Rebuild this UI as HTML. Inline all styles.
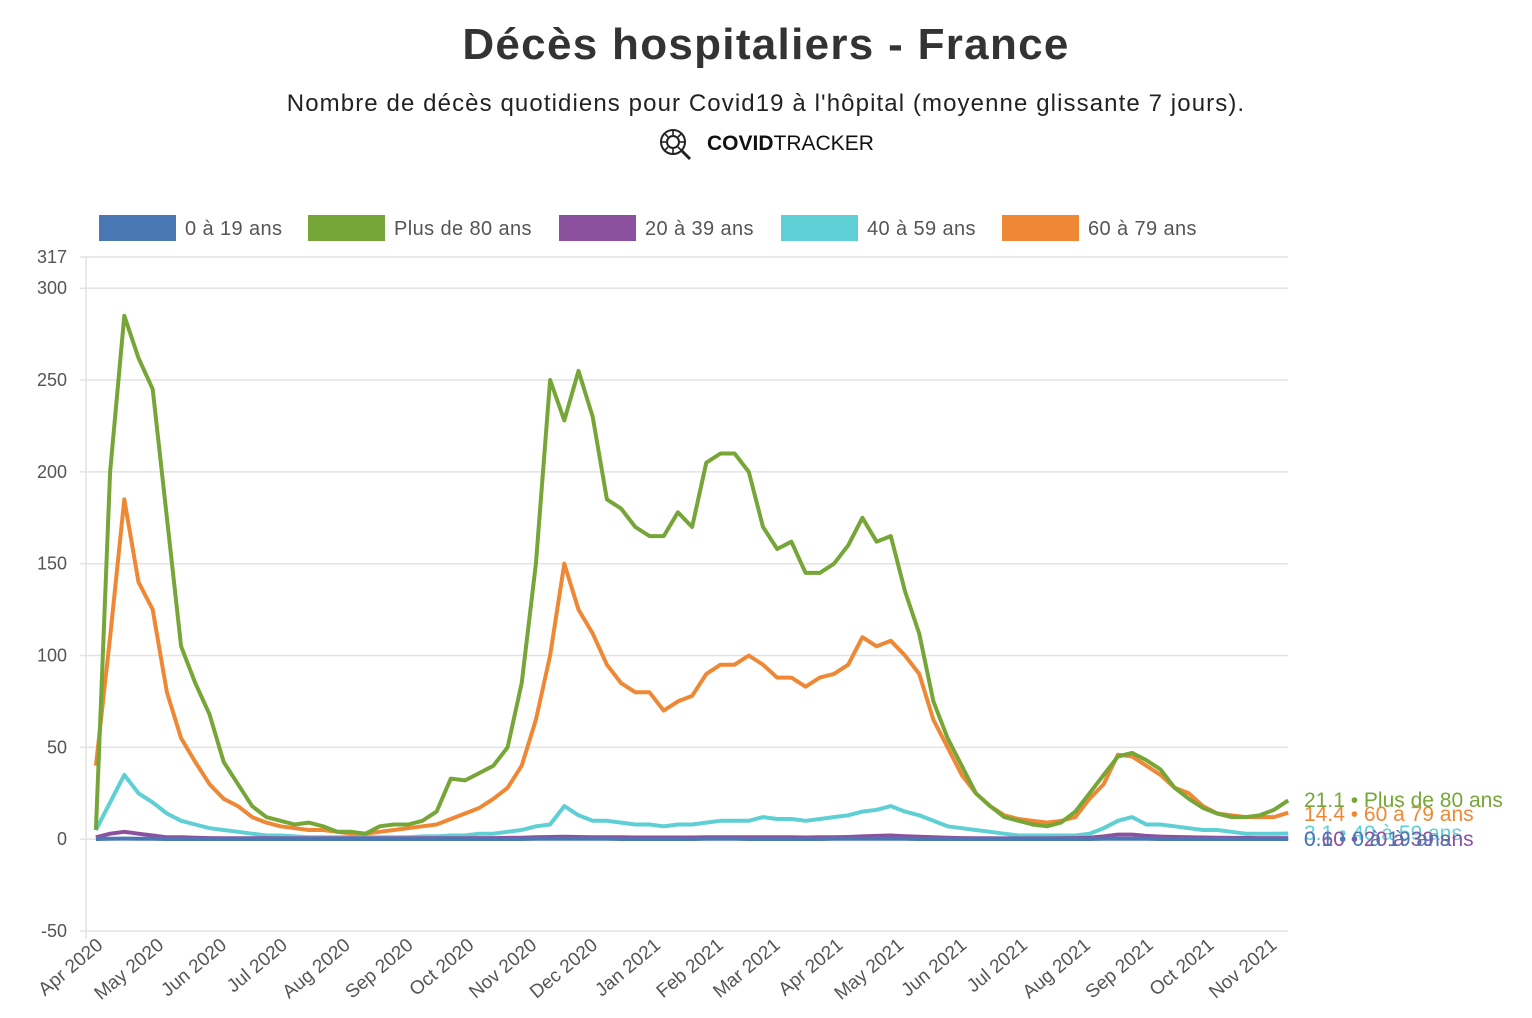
<!DOCTYPE html>
<html><head><meta charset="utf-8"><style>
body{margin:0;background:#fff;font-family:"Liberation Sans",Arial,sans-serif;}
#wrap{position:relative;width:1532px;height:1018px;overflow:hidden;}
.t{position:absolute;left:0;width:1532px;text-align:center;}
</style></head><body>
<div id="wrap">
<div class="t" style="top:20px;font-size:44px;font-weight:bold;color:#333;letter-spacing:1.3px;">Décès hospitaliers - France</div>
<div class="t" style="top:90px;font-size:24px;color:#222;letter-spacing:1.1px;">Nombre de décès quotidiens pour Covid19 à l'hôpital (moyenne glissante 7 jours).</div>
<div style="position:absolute;left:657px;top:126px;height:36px;display:flex;align-items:center;">
<svg width="38" height="34" viewBox="0 0 38 34"><circle cx="16" cy="15" r="12" fill="none" stroke="#222" stroke-width="2"/><circle cx="16" cy="15" r="6" fill="none" stroke="#222" stroke-width="2"/><g stroke="#222" stroke-width="1.6"><line x1="16" y1="4" x2="16" y2="8"/><line x1="16" y1="22" x2="16" y2="26"/><line x1="5" y1="15" x2="9" y2="15"/><line x1="23" y1="15" x2="27" y2="15"/><line x1="8" y1="7" x2="11" y2="10"/><line x1="21" y1="20" x2="24" y2="23"/><line x1="24" y1="7" x2="21" y2="10"/><line x1="8" y1="23" x2="11" y2="20"/></g><line x1="25" y1="24" x2="33" y2="32" stroke="#222" stroke-width="3"/></svg>
<span style="font-size:21px;color:#111;margin-left:12px;"><b>COVID</b>TRACKER</span></div>
<svg id="chart" width="1532" height="1018" style="position:absolute;left:0;top:0"></svg>
</div>
<script>
const seriesNames=["0 à 19 ans","Plus de 80 ans","20 à 39 ans","40 à 59 ans","60 à 79 ans"];
const seriesColors=["#4a78b4","#76a637","#8c519e","#5ecfd4","#ef8834"];
const startDate="2020-03-30";
const stepDays=7;
const vBlue=[0.1,0.2,0.3,0.2,0.2,0.1,0.1,0.1,0.1,0.1,0.1,0.1,0.1,0.1,0.1,0.1,0.1,0.1,0.1,0.1,0.1,0.1,0.1,0.1,0.1,0.1,0.1,0.1,0.1,0.1,0.1,0.2,0.2,0.2,0.2,0.2,0.2,0.1,0.1,0.1,0.1,0.1,0.1,0.2,0.2,0.2,0.1,0.1,0.1,0.1,0.1,0.1,0.2,0.2,0.2,0.2,0.2,0.2,0.1,0.1,0.1,0.1,0.1,0.1,0.1,0.1,0.1,0.1,0.1,0.1,0.1,0.2,0.2,0.2,0.2,0.1,0.1,0.1,0.1,0.1,0.1,0.1,0.1,0.1,0.1];
const vOld=[5,200,285,262,245,175,105,85,68,42,30,18,12,10,8,9,7,4,4,3,7,8,8,10,15,33,32,36,40,50,85,150,250,228,255,230,185,180,170,165,165,178,170,205,210,210,200,170,158,162,145,145,150,160,175,162,165,135,112,75,55,40,25,18,12,10,8,7,9,15,25,35,45,47,43,38,28,22,17,14,12,12,13,16,21.1];
const vYoung=[1,3,4,3,2,1,1,0.8,0.6,0.5,0.5,0.5,0.5,0.4,0.4,0.4,0.4,0.4,0.4,0.4,0.4,0.4,0.4,0.5,0.5,0.5,0.5,0.6,0.6,0.7,0.8,1,1.2,1.3,1.2,1.1,1,1,0.9,0.9,0.9,0.9,0.9,1,1,1,1,1,1,1,0.9,1,1,1.2,1.5,1.8,2,1.6,1.3,1,0.8,0.6,0.5,0.5,0.4,0.4,0.4,0.4,0.5,0.6,0.8,1.5,2.5,2.5,1.8,1.4,1.2,1,0.9,0.8,0.7,0.7,0.6,0.6,0.6];
const vMid=[5,20,35,25,20,14,10,8,6,5,4,3,2,2,1.5,1,1,1,1,1,1,1,1,1.5,1.5,2,2,3,3,4,5,7,8,18,13,10,10,9,8,8,7,8,8,9,10,10,10,12,11,11,10,11,12,13,15,16,18,15,13,10,7,6,5,4,3,2,2,2,2,2,3,6,10,12,8,8,7,6,5,5,4,3,3,3,3.1];
const vSenior=[40,110,185,140,125,80,55,42,30,22,18,12,9,7,6,5,5,4,3,3,4,5,6,7,8,11,14,17,22,28,40,65,100,150,125,112,95,85,80,80,70,75,78,90,95,95,100,95,88,88,83,88,90,95,110,105,108,100,90,65,50,35,25,18,13,11,10,9,10,12,22,30,46,45,40,35,28,25,18,14,13,12,12,12,14.4];
const seriesValues=[vBlue,vOld,vYoung,vMid,vSenior];
const endLabels=["0.1 • 0 à 19 ans","21.1 • Plus de 80 ans","0.60 • 20 à 39 ans","3.1 • 40 à 59 ans","14.4 • 60 à 79 ans"];
const yTicks=[-50,0,50,100,150,200,250,300,317];
const xTickLabels=["Apr 2020","May 2020","Jun 2020","Jul 2020","Aug 2020","Sep 2020","Oct 2020","Nov 2020","Dec 2020","Jan 2021","Feb 2021","Mar 2021","Apr 2021","May 2021","Jun 2021","Jul 2021","Aug 2021","Sep 2021","Oct 2021","Nov 2021"];

const NS="http://www.w3.org/2000/svg";
const svg=document.getElementById('chart');
const L=86,R=1288,T=257,B=931,yMin=-50,yMax=317;
const t0=Date.parse("2020-04-01"),t1=Date.parse("2021-11-01"),x0=100,x1=1274;
const day=86400000;
function xOfTime(t){return x0+(t-t0)/(t1-t0)*(x1-x0);}
function xOfIndex(i){return xOfTime(Date.parse(startDate)+i*stepDays*day);}
function yOf(v){return B-(v-yMin)/(yMax-yMin)*(B-T);}
function mk(tag,attrs){const e=document.createElementNS(NS,tag);for(const k in attrs)e.setAttribute(k,attrs[k]);svg.appendChild(e);return e;}

yTicks.forEach(v=>{
  const g=mk('line',{x1:L-6,x2:R,y1:yOf(v),y2:yOf(v),stroke:'#e3e3e3','stroke-width':1.5});
  
  
  const tx=mk('text',{x:67,y:yOf(v)+6,'text-anchor':'end','font-size':18,fill:'#555','font-family':'Liberation Sans, sans-serif'});
  tx.textContent=String(v);
  
  
});
const ax=mk('line',{x1:L,x2:L,y1:T,y2:B+8,stroke:'#e3e3e3','stroke-width':1.5});



xTickLabels.forEach((lab,i)=>{
  const d=new Date(Date.UTC(2020,3+i,1));
  const x=xOfTime(d.getTime())+4;
  const tx=mk('text',{x:x,y:947,'text-anchor':'end','font-size':19,fill:'#555','font-family':'Liberation Sans, sans-serif',transform:`rotate(-40 ${x} 947)`});
  tx.textContent=lab;
  
  
});

const order=[3,2,0,4,1];
order.forEach(s=>{
  const vals=seriesValues[s];
  let d='';
  vals.forEach((v,i)=>{d+=(i?'L':'M')+xOfIndex(i).toFixed(1)+','+yOf(v).toFixed(1);});
  const p=mk('path',{d:d,fill:'none',stroke:seriesColors[s],'stroke-width':4,'stroke-linejoin':'round'});
  
  
});
const labelY=[846,807,846,840,821];
[3,2,0,4,1].forEach(s=>{
  const tx=mk('text',{x:1304,y:labelY[s],'font-size':21,fill:seriesColors[s],'font-family':'Liberation Sans, sans-serif'});
  tx.textContent=endLabels[s];
  
  
});

const legX=[99,308,559,781,1002];
seriesNames.forEach((n,i)=>{
  const r=mk('rect',{x:legX[i],y:215,width:77,height:26,fill:seriesColors[i]});
  
  
  const tx=mk('text',{x:legX[i]+86,y:235,'font-size':20,fill:'#555','font-family':'Liberation Sans, sans-serif','letter-spacing':0.4});
  tx.textContent=n;
  
  
});
</script>
</body></html>
